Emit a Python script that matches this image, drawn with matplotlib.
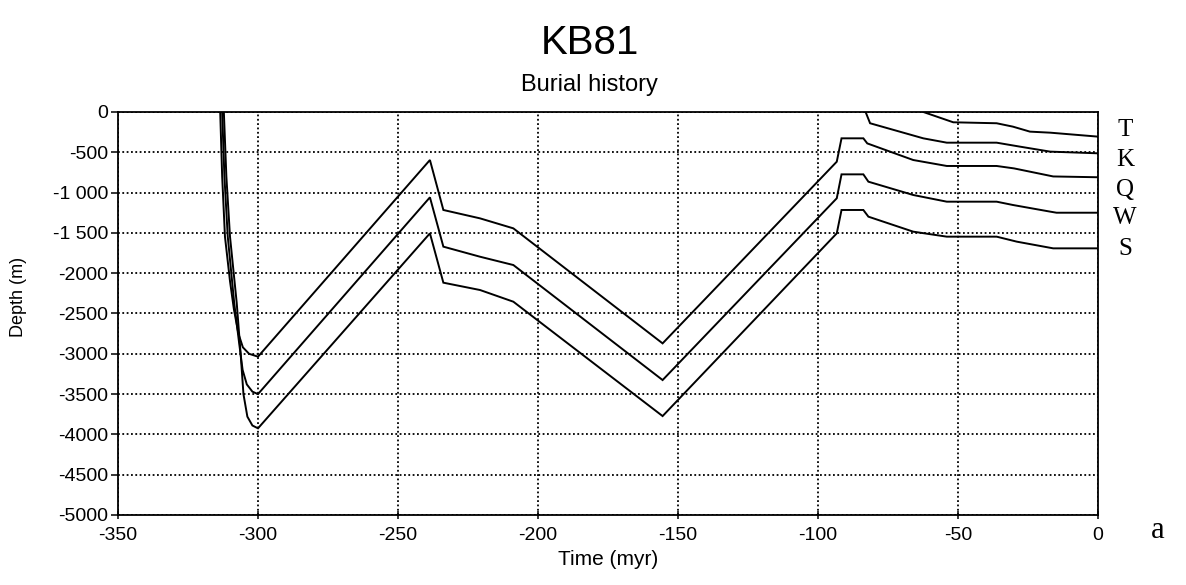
import numpy as np
import matplotlib
matplotlib.use('Agg')
import matplotlib.pyplot as plt

plt.rcParams['font.family'] = ['Liberation Sans', 'DejaVu Sans']

# Burial curves (time in myr, depth in m) for each horizon
time_T = [-62.4, -51.7, -36.2, -30.4, -24.3, -17.0, 0.0]
depth_T = [0, -128, -140, -182, -244, -257, -306]

time_K = [-83.0, -81.4, -62.4, -54.0, -36.2, -27.9, -17.1, 0.0]
depth_K = [0, -140, -327, -381, -381, -430, -492, -513]

time_Q = [-313.5, -312.8, -311.8, -310.0, -308.6, -307.0, -305.4, -303.2, -300.0,
          -238.6, -233.8, -220.7, -208.8, -155.5, -93.3, -91.6, -83.8, -82.4,
          -66.0, -54.0, -36.2, -30.0, -16.0, 0.0]
depth_Q = [0, -800, -1547, -2100, -2450, -2750, -2920, -3000, -3036,
           -596, -1216, -1320, -1444, -2871, -617, -327, -327, -390,
           -596, -670, -670, -700, -800, -810]

time_W = [-312.8, -312.0, -310.8, -308.5, -306.8, -305.5, -304.0, -302.0, -300.0,
          -238.6, -233.8, -220.7, -208.8, -155.5, -93.3, -91.6, -83.8, -82.0,
          -66.0, -54.0, -36.2, -30.4, -17.0, -14.8, 0.0]
depth_W = [0, -800, -1547, -2370, -2850, -3200, -3380, -3470, -3500,
           -1059, -1671, -1796, -1899, -3326, -1071, -774, -774, -865,
           -1030, -1113, -1113, -1154, -1237, -1250, -1250]

time_S = [-312.2, -311.3, -310.0, -307.6, -306.2, -305.2, -303.8, -302.0, -300.0,
          -238.6, -233.8, -220.7, -208.8, -155.5, -93.3, -91.6, -83.8, -82.0,
          -66.0, -54.0, -36.2, -29.0, -16.0, 0.0]
depth_S = [0, -800, -1547, -2370, -3000, -3500, -3780, -3890, -3925,
           -1506, -2118, -2209, -2354, -3773, -1506, -1216, -1216, -1299,
           -1485, -1547, -1547, -1609, -1692, -1692]

horizons = ['T', 'K', 'Q', 'W', 'S']
x_ticks = [-350, -300, -250, -200, -150, -100, -50, 0]
y_ticks = [0, -500, -1000, -1500, -2000, -2500, -3000, -3500, -4000, -4500, -5000]
y_tick_labels = ['0', '-500', '-1 000', '-1 500', '-2000', '-2500', '-3000',
                 '-3500', '-4000', '-4500', '-5000']

fig = plt.figure(figsize=(11.86, 5.85), dpi=100)
ax = fig.add_axes([0.0995, 0.1197, 0.8263, 0.6889])

for t, d in [(time_T, depth_T), (time_K, depth_K), (time_Q, depth_Q),
             (time_W, depth_W), (time_S, depth_S)]:
    ax.plot(t, d, color='black', linewidth=1.4, solid_joinstyle='miter', zorder=3)

ax.set_xlim(-350, 0)
ax.set_ylim(-5000, 0)
ax.set_xticks(x_ticks)
ax.set_xticklabels([str(v) for v in x_ticks])
ax.set_yticks(y_ticks)
ax.set_yticklabels(y_tick_labels)
ax.grid(True, color='black', linestyle=(0, (1, 1.4)), linewidth=1.3)
ax.set_axisbelow(True)

for s in ax.spines.values():
    s.set_linewidth(1.3)
ax.tick_params(axis='x', direction='inout', length=6, width=1.1, labelsize=14, pad=6)
ax.tick_params(axis='y', direction='out', length=5, width=1.1, labelsize=14, pad=2)

ax.set_xlabel('Time (myr)', fontsize=15, labelpad=4)
ax.set_ylabel('Depth (m)', fontsize=13)
ax.yaxis.set_label_coords(-0.093, 0.541)

fig.text(0.497, 0.926, 'KB81', fontsize=29, ha='center', va='center')
fig.text(0.497, 0.855, 'Burial history', fontsize=17, ha='center', va='center')

# Horizon names to the right of the plot
label_y = [130, 160, 190, 218, 249]
for name, py in zip(horizons, label_y):
    fig.text(1125 / 1186, 1 - py / 585, name, fontsize=18, ha='center', va='center',
             family=['Liberation Serif', 'DejaVu Serif'])

fig.text(1158 / 1186, 1 - 530 / 585, 'a', fontsize=22, ha='center', va='center',
         family=['Liberation Serif', 'DejaVu Serif'])

plt.savefig('out.png', dpi=100)
